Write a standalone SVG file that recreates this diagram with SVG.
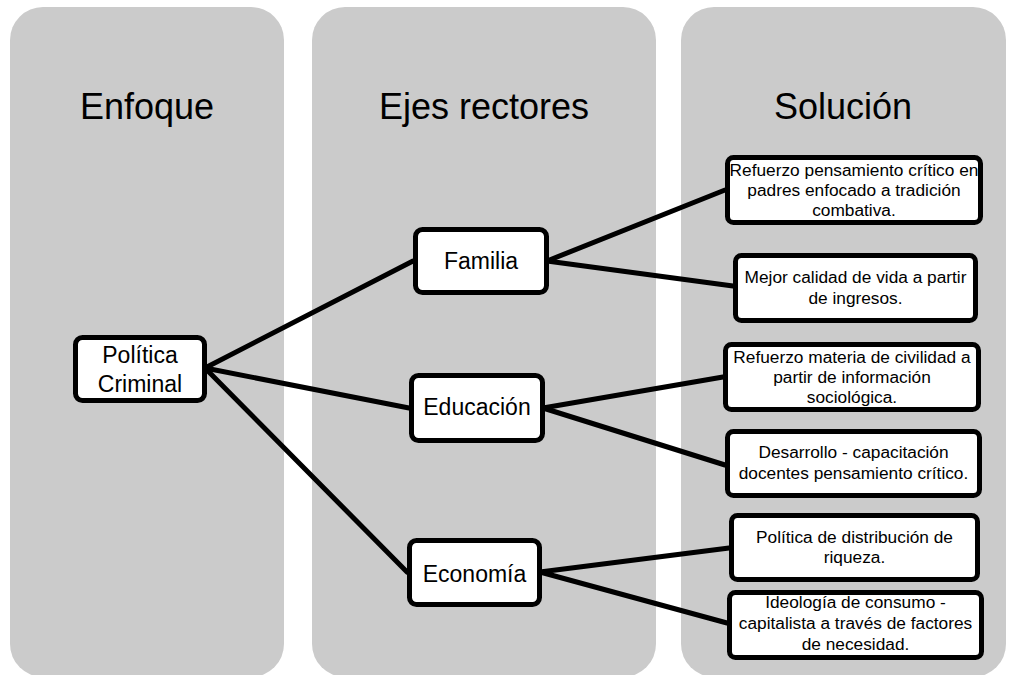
<svg xmlns="http://www.w3.org/2000/svg" width="1015" height="675" viewBox="0 0 1015 675">
<style>
.col{fill:#cbcbcb}
.head{font-family:"Liberation Sans",Arial,sans-serif;font-size:36px;fill:#000;text-anchor:middle}
.box{fill:#fff;stroke:#000;stroke-width:5}
.mid{font-family:"Liberation Sans",Arial,sans-serif;font-size:23px;fill:#000;text-anchor:middle}
.sm{font-family:"Liberation Sans",Arial,sans-serif;font-size:17.3px;fill:#000;text-anchor:middle}
.ln{stroke:#000;stroke-width:5;fill:none;stroke-linecap:round}
</style>
<rect width="1015" height="675" fill="#fff"/>
<g id="columns">
<rect class="col" x="10" y="7" width="274" height="670" rx="33"/>
<rect class="col" x="312" y="7" width="344" height="670" rx="33"/>
<rect class="col" x="681" y="7" width="325" height="670" rx="33"/>
<text class="head" x="147" y="119">Enfoque</text>
<text class="head" x="484" y="119">Ejes rectores</text>
<text class="head" x="843" y="119">Solución</text>
</g>
<g id="connectors">
<line class="ln" x1="205" y1="368" x2="413" y2="261"/>
<line class="ln" x1="205" y1="368" x2="409" y2="408"/>
<line class="ln" x1="205" y1="368" x2="407" y2="572"/>
<line class="ln" x1="547" y1="261" x2="725" y2="190"/>
<line class="ln" x1="547" y1="261" x2="733" y2="286"/>
<line class="ln" x1="543" y1="408" x2="723" y2="377"/>
<line class="ln" x1="543" y1="408" x2="725" y2="465"/>
<line class="ln" x1="540" y1="572" x2="729" y2="548"/>
<line class="ln" x1="540" y1="572" x2="727" y2="623"/>
</g>
<g id="politica">
<rect class="box" x="75.5" y="337.5" width="129" height="63" rx="7"/>
<text class="mid" x="140" y="363">Política</text>
<text class="mid" x="140" y="392">Criminal</text>
</g>
<g id="familia">
<rect class="box" x="415.5" y="229.5" width="131" height="63" rx="7"/>
<text class="mid" x="481" y="269">Familia</text>
</g>
<g id="educacion">
<rect class="box" x="411.5" y="375.5" width="131" height="65" rx="7"/>
<text class="mid" x="477" y="415">Educación</text>
</g>
<g id="economia">
<rect class="box" x="409.5" y="540.5" width="130" height="64" rx="7"/>
<text class="mid" x="474.5" y="582">Economía</text>
</g>
<g id="sol1">
<rect class="box" x="727.5" y="157.5" width="253" height="65" rx="6"/>
<text class="sm" x="854" y="176">Refuerzo pensamiento crítico en</text>
<text class="sm" x="854" y="196">padres enfocado a tradición</text>
<text class="sm" x="854" y="216">combativa.</text>
</g>
<g id="sol2">
<rect class="box" x="735.5" y="255.5" width="240" height="65" rx="6"/>
<text class="sm" x="855.5" y="283">Mejor calidad de vida a partir</text>
<text class="sm" x="855.5" y="304">de ingresos.</text>
</g>
<g id="sol3">
<rect class="box" x="725.5" y="344.5" width="253" height="65" rx="6"/>
<text class="sm" x="852" y="363">Refuerzo materia de civilidad a</text>
<text class="sm" x="852" y="383">partir de información</text>
<text class="sm" x="852" y="403">sociológica.</text>
</g>
<g id="sol4">
<rect class="box" x="727.5" y="431.5" width="252" height="64" rx="6"/>
<text class="sm" x="853.5" y="458">Desarrollo - capacitación</text>
<text class="sm" x="853.5" y="479">docentes pensamiento crítico.</text>
</g>
<g id="sol5">
<rect class="box" x="731.5" y="515.5" width="246" height="64" rx="6"/>
<text class="sm" x="854.5" y="543">Política de distribución de</text>
<text class="sm" x="854.5" y="563">riqueza.</text>
</g>
<g id="sol6">
<rect class="box" x="729.5" y="592.5" width="252" height="65" rx="6"/>
<text class="sm" x="855.5" y="608">Ideología de consumo -</text>
<text class="sm" x="855.5" y="629">capitalista a través de factores</text>
<text class="sm" x="855.5" y="650">de necesidad.</text>
</g>
</svg>
